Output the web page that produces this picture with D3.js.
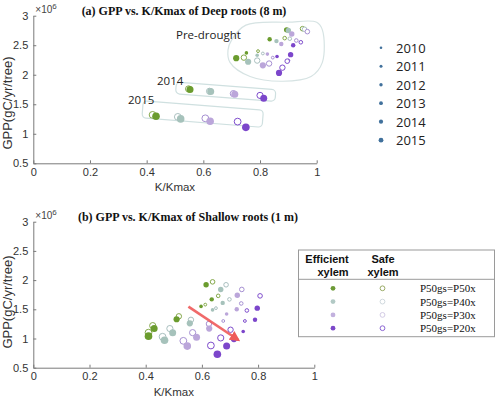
<!DOCTYPE html>
<html>
<head>
<meta charset="utf-8">
<script src="https://cdn.jsdelivr.net/npm/d3@7"></script>
<style>
body { margin: 0; background: #fff; }
</style>
</head>
<body>
<script>
var years = [2010, 2011, 2012, 2013, 2014, 2015];
var schemes = ["P50gs=P50x", "P50gs=P40x", "P50gs=P30x", "P50gs=P20x"];
var xTicks = [0, 0.2, 0.4, 0.6, 0.8, 1];
var yTicks = [0.5, 1, 1.5, 2, 2.5, 3];

// deep roots (8 m): rows = years, columns = schemes, GPP in 1e6 gC/yr/tree
var deepEffK   = [[0.752, 0.79, 0.826, 0.86], [0.834, 0.858, 0.875, 0.917], [0.894, 0.90, 0.912, 0.908],
                  [0.716, 0.758, 0.81, 0.867], [0.553, 0.626, 0.711, 0.813], [0.433, 0.52, 0.624, 0.75]];
var deepEffGPP = [[2.37, 2.33, 2.35, 2.31], [2.60, 2.57, 2.52, 2.50], [2.76, 2.75, 2.69, 2.34],
                  [2.28, 2.22, 2.16, 2.03], [1.75, 1.717, 1.67, 1.60], [1.296, 1.252, 1.211, 1.109]];
var deepSafeK   = [[0.793, 0.81, 0.845, 0.90], [0.887, 0.905, 0.928, 0.944], [0.95, 0.957, 0.967, 0.896],
                   [0.743, 0.79, 0.832, 0.879], [0.548, 0.622, 0.706, 0.80], [0.421, 0.51, 0.607, 0.721]];
var deepSafeGPP = [[2.40, 2.36, 2.29, 2.24], [2.62, 2.61, 2.58, 2.55], [2.78, 2.77, 2.73, 2.23],
                   [2.29, 2.24, 2.19, 2.12], [1.76, 1.72, 1.68, 1.65], [1.32, 1.286, 1.262, 1.206]];

// shallow roots (1 m)
var shallowEffK   = [[0.597, 0.638, 0.688, 0.747], [0.635, 0.674, 0.724, 0.789], [0.615, 0.667, 0.726, 0.797],
                     [0.51, 0.557, 0.626, 0.714], [0.43, 0.496, 0.581, 0.688], [0.41, 0.467, 0.548, 0.655]];
var shallowEffGPP = [[1.55, 1.49, 1.42, 1.12], [1.67, 1.61, 1.50, 1.32], [1.92, 1.84, 1.74, 1.52],
                     [1.33, 1.26, 1.17, 0.99], [1.17, 1.10, 1.02, 0.87], [1.04, 0.97, 0.87, 0.73]];
var shallowSafeK   = [[0.612, 0.65, 0.676, 0.753], [0.658, 0.698, 0.74, 0.76], [0.638, 0.686, 0.742, 0.807],
                      [0.518, 0.561, 0.625, 0.702], [0.425, 0.486, 0.567, 0.667], [0.41, 0.46, 0.534, 0.632]];
var shallowSafeGPP = [[1.58, 1.52, 1.30, 1.30], [1.73, 1.67, 1.60, 1.48], [1.97, 1.92, 1.84, 1.73],
                      [1.38, 1.32, 1.25, 1.15], [1.22, 1.17, 1.10, 1.01], [1.10, 1.03, 0.96, 0.88]];

// outlines drawn round the deep-root groups (data units)
var preDroughtK   = [0.70, 0.75, 0.90, 1.00, 1.02, 1.02, 0.98, 0.88, 0.765, 0.694, 0.687];
var preDroughtGPP = [2.59, 2.84, 2.89, 2.89, 2.76, 2.21, 1.97, 1.89, 1.97, 2.21, 2.42];
var box2014K   = [0.505, 0.856, 0.853, 0.503];
var box2014GPP = [1.876, 1.746, 1.535, 1.678];
var box2015K   = [0.388, 0.812, 0.806, 0.383];
var box2015GPP = [1.56, 1.40, 1.03, 1.27];

// red arrow in the shallow panel
var arrowK   = [0.552, 0.73];
var arrowGPP = [1.545, 0.974];

var fillColors   = ["#6b9c2e", "#a6c2bb", "#bba6da", "#7c46cb"];
var ringColors   = ["#84a84a", "#a9bfbf", "#a690d2", "#7e4ccc"];
var legendFill   = ["#6d9a37", "#b2c9c5", "#c2b1de", "#7c48c9"];
var legendRing   = ["#9aab66", "#d0d9de", "#d3cbe5", "#8c66d4"];
var yearRadius   = [1.4, 1.8, 2.3, 2.7, 3.1, 3.4];
var legendRadius = [1.3, 1.5, 1.7, 1.9, 2.1, 2.4];

var svg = d3.select("body").append("svg")
    .attr("width", 500)
    .attr("height", 400)
    .style("font-family", "'Liberation Sans', Arial, sans-serif");

svg.append("defs").append("marker")
    .attr("id", "arrowHead")
    .attr("viewBox", "0 0 10 10")
    .attr("refX", 8).attr("refY", 5)
    .attr("markerWidth", 4).attr("markerHeight", 4)
    .attr("orient", "auto")
    .append("path")
    .attr("d", "M0,0 L10,5 L0,10 Z")
    .attr("fill", "#ee5a5a");

function drawPanel(opt) {
    var x = d3.scaleLinear().domain([0, 1]).range(opt.xRange);
    var y = d3.scaleLinear().domain([0.5, 3]).range(opt.yRange);
    var g = svg.append("g");

    var xAxis = g.append("g")
        .attr("transform", "translate(0," + opt.yRange[0] + ")")
        .call(d3.axisBottom(x).tickValues(xTicks).tickFormat(d3.format(""))
            .tickSizeInner(-3).tickSizeOuter(0).tickPadding(5));
    var yAxis = g.append("g")
        .attr("transform", "translate(" + opt.xRange[0] + ",0)")
        .call(d3.axisLeft(y).tickValues(yTicks).tickFormat(d3.format(""))
            .tickSizeInner(-3).tickSizeOuter(0).tickPadding(5));
    [xAxis, yAxis].forEach(function(a) {
        a.select(".domain").attr("stroke", "#7a7a7a");
        a.selectAll(".tick line").attr("stroke", "#7a7a7a");
        a.selectAll(".tick text").attr("fill", "#333").style("font-size", "11px");
    });

    // x10^6 exponent label
    var ex = g.append("text")
        .attr("x", opt.xRange[0] + 2)
        .attr("y", opt.yRange[1] - 3)
        .attr("fill", "#444")
        .style("font-size", "10px")
        .text("\u00d710");
    ex.append("tspan").attr("dy", -4).style("font-size", "8px").text("6");

    g.append("text")
        .attr("x", opt.titleX)
        .attr("y", opt.yRange[1] - 1)
        .attr("text-anchor", "middle")
        .style("font-family", "'Liberation Serif', 'Times New Roman', serif")
        .style("font-weight", "bold")
        .style("font-size", "12px")
        .attr("fill", "#111")
        .text(opt.title);

    g.append("text")
        .attr("x", (opt.xRange[0] + opt.xRange[1]) / 2)
        .attr("y", opt.yRange[0] + 28)
        .attr("text-anchor", "middle")
        .attr("fill", "#333")
        .style("font-size", "11.5px")
        .text("K/Kmax");

    g.append("text")
        .attr("transform", "translate(12," + opt.yLabelY + ") rotate(-90)")
        .attr("text-anchor", "middle")
        .attr("fill", "#333")
        .style("font-size", "13px")
        .text("GPP(gC/yr/tree)");

    if (opt.decorate) opt.decorate(g, x, y);

    // safe xylem rings first, efficient xylem dots on top
    years.forEach(function(yr, i) {
        schemes.forEach(function(s, j) {
            g.append("circle")
                .attr("cx", x(opt.safeK[i][j]))
                .attr("cy", y(opt.safeGPP[i][j]))
                .attr("r", yearRadius[i])
                .attr("fill", "#fff")
                .attr("stroke", ringColors[j])
                .attr("stroke-width", 1);
        });
    });
    years.forEach(function(yr, i) {
        schemes.forEach(function(s, j) {
            g.append("circle")
                .attr("cx", x(opt.effK[i][j]))
                .attr("cy", y(opt.effGPP[i][j]))
                .attr("r", yearRadius[i] + 0.4)
                .attr("fill", fillColors[j]);
        });
    });

    if (opt.overlay) opt.overlay(g, x, y);
}

function roundedBox(g, x, y, ks, gpps) {
    var pts = ks.map(function(k, i) { return [x(k), y(gpps[i])]; });
    var dx = pts[1][0] - pts[0][0], dy = pts[1][1] - pts[0][1];
    var w = Math.sqrt(dx * dx + dy * dy);
    var hx = pts[3][0] - pts[0][0], hy = pts[3][1] - pts[0][1];
    var h = Math.sqrt(hx * hx + hy * hy);
    var ang = Math.atan2(dy, dx) * 180 / Math.PI;
    g.append("rect")
        .attr("transform", "translate(" + pts[0][0] + "," + pts[0][1] + ") rotate(" + ang + ")")
        .attr("width", w)
        .attr("height", h)
        .attr("rx", 4)
        .attr("fill", "none")
        .attr("stroke", "#cfe0e0")
        .attr("stroke-width", 1.2);
}

drawPanel({
    xRange: [33.3, 316.7],
    yRange: [163.3, 15.7],
    title: "(a) GPP vs. K/Kmax of Deep roots (8 m)",
    titleX: 184,
    yLabelY: 103,
    effK: deepEffK, effGPP: deepEffGPP,
    safeK: deepSafeK, safeGPP: deepSafeGPP,
    decorate: function(g, x, y) {
        var line = d3.line().curve(d3.curveCatmullRomClosed)
            .x(function(d) { return x(d[0]); })
            .y(function(d) { return y(d[1]); });
        g.append("path")
            .attr("d", line(preDroughtK.map(function(k, i) { return [k, preDroughtGPP[i]]; })))
            .attr("fill", "none")
            .attr("stroke", "#d6e3e3")
            .attr("stroke-width", 1.2);
        roundedBox(g, x, y, box2014K, box2014GPP);
        roundedBox(g, x, y, box2015K, box2015GPP);
        var labels = [["Pre-drought", 176, 39], ["2014", 157, 85], ["2015", 128, 104]];
        labels.forEach(function(l) {
            g.append("text")
                .attr("x", l[1]).attr("y", l[2])
                .attr("fill", "#222")
                .style("font-family", "'Open Sans', 'Noto Sans', sans-serif")
                .style("font-size", "11.5px")
                .text(l[0]);
        });
    }
});

drawPanel({
    xRange: [33.3, 314.3],
    yRange: [367.7, 221.7],
    title: "(b) GPP vs. K/Kmax of Shallow roots (1 m)",
    titleX: 188,
    yLabelY: 302,
    effK: shallowEffK, effGPP: shallowEffGPP,
    safeK: shallowSafeK, safeGPP: shallowSafeGPP,
    overlay: function(g, x, y) {
        g.append("line")
            .attr("x1", x(arrowK[0])).attr("y1", y(arrowGPP[0]))
            .attr("x2", x(arrowK[1])).attr("y2", y(arrowGPP[1]))
            .attr("stroke", "#ee5a5a")
            .attr("stroke-opacity", 0.9)
            .attr("stroke-width", 2.6)
            .attr("marker-end", "url(#arrowHead)");
    }
});

// year legend (marker size)
var yearLegend = svg.append("g");
years.forEach(function(yr, i) {
    var cy = 47.7 + i * 18.5;
    yearLegend.append("circle")
        .attr("cx", 381).attr("cy", cy)
        .attr("r", legendRadius[i])
        .attr("fill", "#41719c");
    yearLegend.append("text")
        .attr("x", 396).attr("y", cy + 5)
        .attr("fill", "#222")
        .style("font-family", "'Open Sans', 'Noto Sans', sans-serif")
        .style("font-size", "13px")
        .text(yr);
});

// xylem / scheme table legend
var table = svg.append("g");
table.append("rect")
    .attr("x", 298.5).attr("y", 250)
    .attr("width", 196).attr("height", 86.7)
    .attr("fill", "#fff")
    .attr("stroke", "#9a9a9a");
table.append("line")
    .attr("x1", 298.5).attr("x2", 494.5)
    .attr("y1", 279.3).attr("y2", 279.3)
    .attr("stroke", "#9a9a9a");
[["Efficient", 327, 263], ["xylem", 333, 275.5], ["Safe", 383, 263], ["xylem", 383, 275.5]].forEach(function(h) {
    table.append("text")
        .attr("x", h[1]).attr("y", h[2])
        .attr("text-anchor", "middle")
        .attr("fill", "#111")
        .style("font-weight", "bold")
        .style("font-size", "11px")
        .text(h[0]);
});
schemes.forEach(function(s, j) {
    var cy = 288.3 + j * 13.3;
    table.append("circle")
        .attr("cx", 333).attr("cy", cy).attr("r", 2.4)
        .attr("fill", legendFill[j]);
    table.append("circle")
        .attr("cx", 382.5).attr("cy", cy).attr("r", 2.4)
        .attr("fill", "#fff")
        .attr("stroke", legendRing[j])
        .attr("stroke-width", 1);
    table.append("text")
        .attr("x", 420).attr("y", cy + 4)
        .attr("fill", "#111")
        .style("font-family", "'Liberation Serif', 'Times New Roman', serif")
        .style("font-size", "11px")
        .text(s);
});
</script>
</body>
</html>
